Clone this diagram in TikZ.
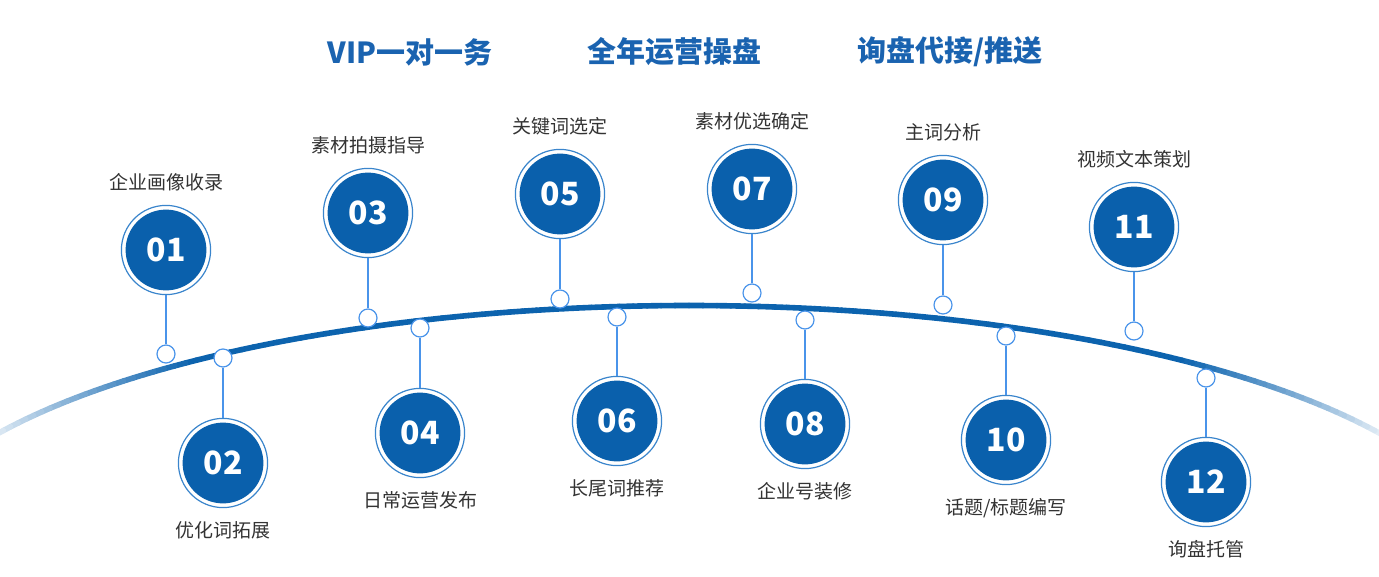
\documentclass[tikz,border=0pt]{standalone}
\usepackage{fontspec}
\usetikzlibrary{positioning}
\newfontfamily\cjk{Noto Sans CJK SC}
\definecolor{stepblue}{HTML}{0A60AC}
\definecolor{arcblue}{HTML}{0C63AE}
\definecolor{ringblue}{HTML}{3A85CC}
\definecolor{dotblue}{HTML}{4A94EA}
\definecolor{titleblue}{HTML}{1A63B0}
\definecolor{labelgray}{HTML}{333333}

\tikzset{
  bigstep/.style={circle, minimum size=44.6pt, inner sep=0pt, draw=ringblue,
    line width=0.6pt, fill=white,
    path picture={\fill[stepblue] (path picture bounding box.center) circle[radius=20.2pt];},
    text=white, font=\cjk\bfseries\fontsize{16}{16}\selectfont},
  stepdot/.style={circle, minimum size=9pt, inner sep=0pt, draw=dotblue,
    line width=0.6pt, fill=white},
  stepline/.style={draw=dotblue, line width=0.6pt},
  steplabel/.style={text=labelgray, font=\cjk\fontsize{9.5}{10}\selectfont, inner sep=0pt},
  headline/.style={text=titleblue, font=\cjk\bfseries\fontsize{14.5}{15}\selectfont}
}

\begin{document}
\begin{tikzpicture}[x=0.5pt, y=-0.5pt]
  \useasboundingbox (0,0) rectangle (1379,577);

  % titles
  \node[headline] (h1) at (410,52) {VIP一对一务};
  \node[headline] (h2) at (674,52) {全年运营操盘};
  \node[headline] (h3) at (950,52) {询盘代接/推送};

  % arc, fading out at both ends
  \foreach \a in {30,...,149}{
    \pgfmathsetmacro\p{min(100,12+88*min(\a-30,150-\a)/22)}
    \draw[arcblue!\p!white, line width=2.8pt, line cap=round]
      ({689+800*cos(\a)},{563.5-258*sin(\a)}) -- ({689+800*cos(\a+1)},{563.5-258*sin(\a+1)});
  }

  % steps above the arc
  \foreach \n/\x/\y/\d/\t in {01/166/250/354/企业画像收录, 03/368/213/318/素材拍摄指导,
      05/560/194/299/关键词选定, 07/752/189/293/素材优选确定,
      09/943/200/305/主词分析, 11/1134/227/331/视频文本策划}{
    \node[bigstep] (s\n) at (\x,\y) {\n};
    \node[stepdot] (d\n) at (\x,\d) {};
    \node[steplabel, above=6.5pt of s\n] (l\n) {\t};
    \draw[stepline] (s\n) -- (d\n);
  }

  % steps below the arc
  \foreach \n/\x/\y/\d/\t in {02/223/463/358/优化词拓展, 04/420/433/328/日常运营发布,
      06/617/421/317/长尾词推荐, 08/805/424/320/企业号装修,
      10/1006/440/336/{话题/标题编写}, 12/1206/482/378/询盘托管}{
    \node[bigstep] (s\n) at (\x,\y) {\n};
    \node[stepdot] (d\n) at (\x,\d) {};
    \node[steplabel, below=6.5pt of s\n] (l\n) {\t};
    \draw[stepline] (s\n) -- (d\n);
  }
\end{tikzpicture}
\end{document}
